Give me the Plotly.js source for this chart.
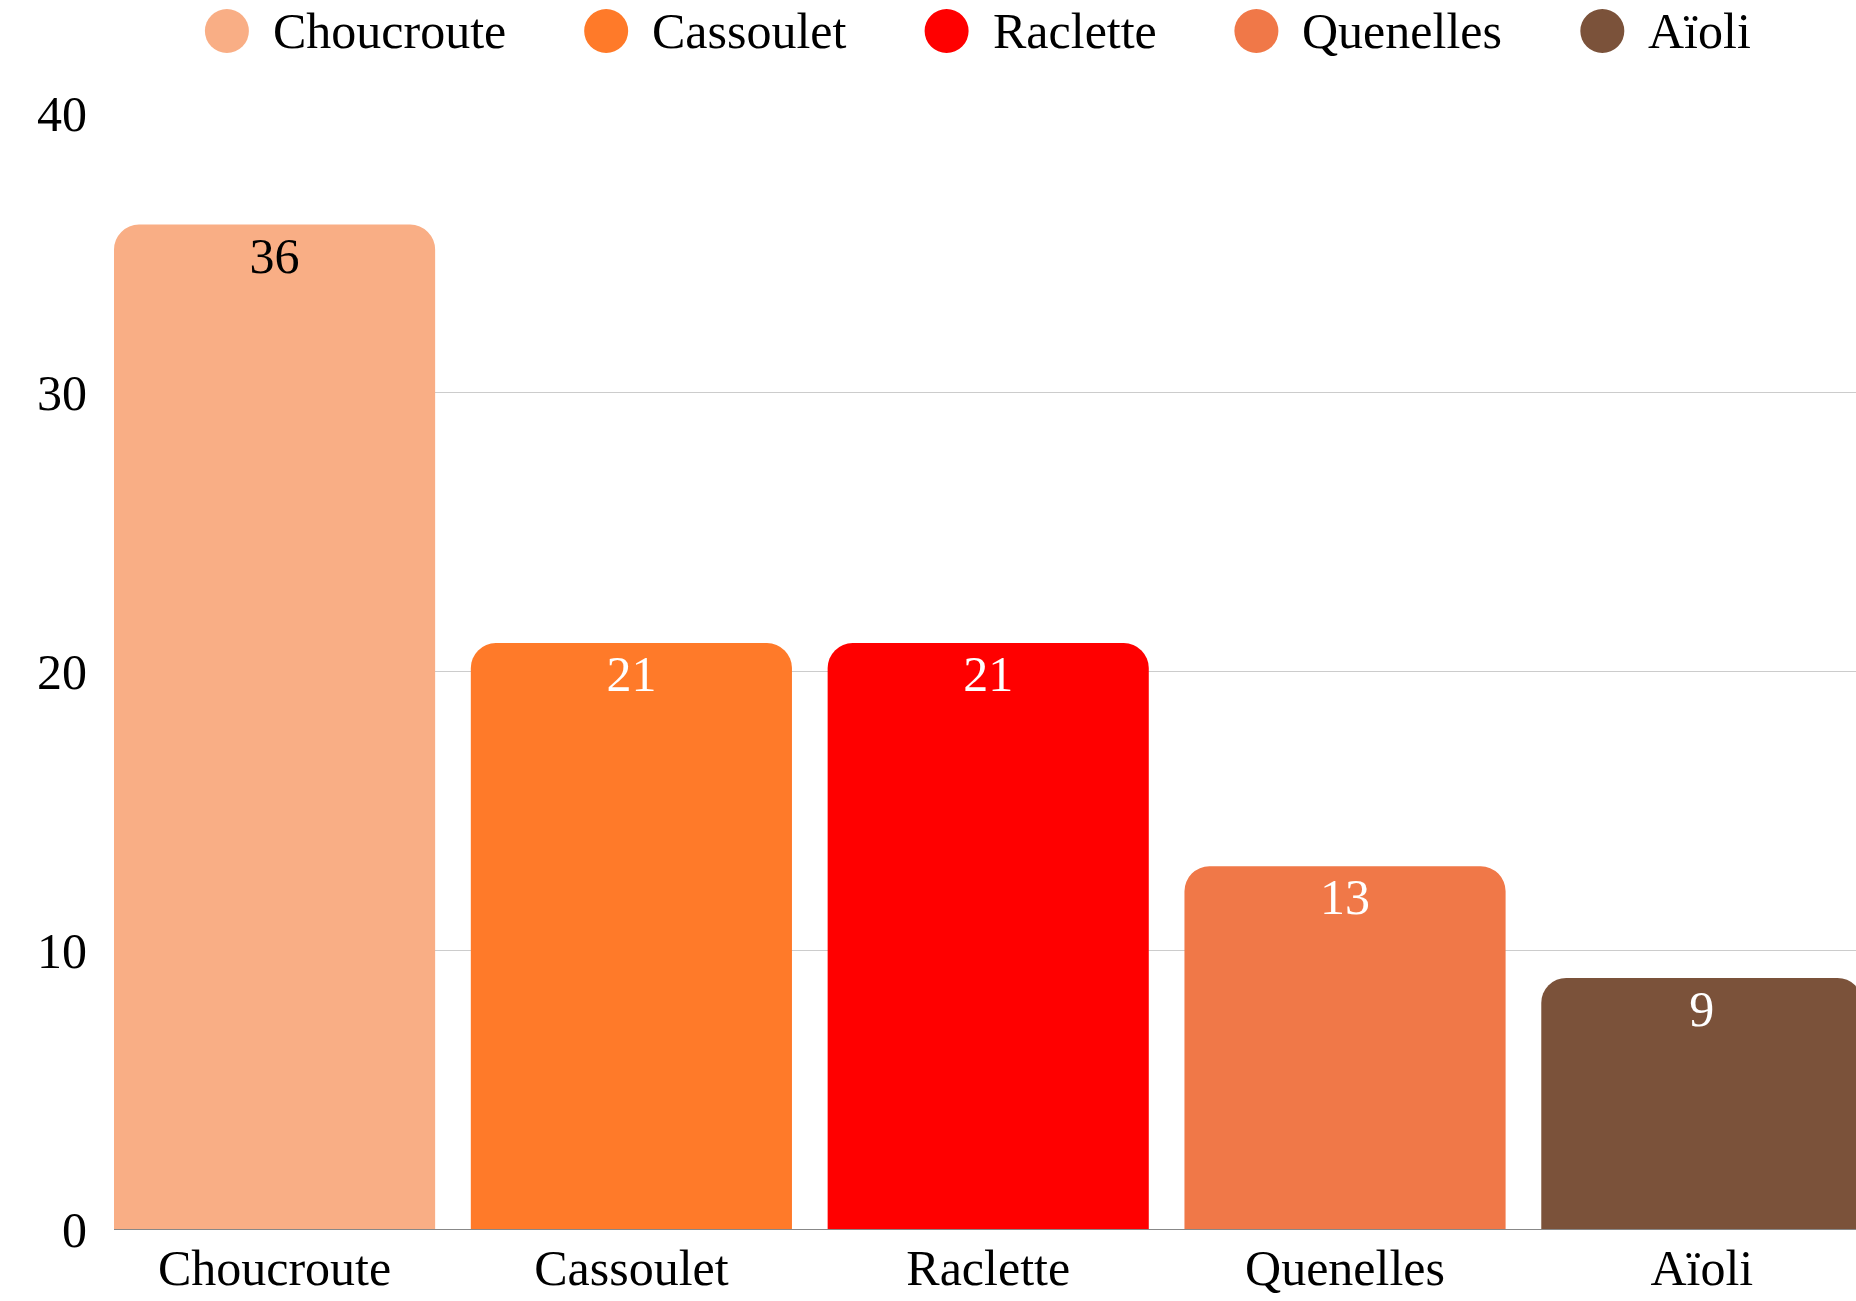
<!DOCTYPE html>
<html>
<head>
<meta charset="utf-8">
<script src="https://cdn.plot.ly/plotly-3.0.1.min.js"></script>
<style>html,body{margin:0;padding:0;background:#fff;}#chart{width:1856px;height:1301px;}</style>
</head>
<body>
<div id="chart"></div>
<script>
const categories = ['Choucroute', 'Cassoulet', 'Raclette', 'Quenelles', 'Aïoli'];
const values = [36, 21, 21, 13, 9];
const barColors = ['#F9AE85', '#FF7A29', '#FF0000', '#F07848', '#7B523A'];
const labelColors = ['#000000', '#FFFFFF', '#FFFFFF', '#FFFFFF', '#FFFFFF'];
const yTickValues = [0, 10, 20, 30, 40];

const W = 1856, H = 1301;
const M = {l: 114, r: 0, t: 113, b: 72};
const FONT = 'Liberation Serif';
const FS = 50;
const plotW = W - M.l - M.r, plotH = H - M.t - M.b;

// legend built from categories/colors
const ctx = document.createElement('canvas').getContext('2d');
ctx.font = FS + 'px "' + FONT + '"';
const R = 22, symToText = 44, itemGap = 80;
const widths = categories.map(c => ctx.measureText(c).width);
let total = 0;
widths.forEach((w, i) => { total += R + symToText + w + (i < widths.length - 1 ? itemGap : 0); });
const centerPx = M.l + plotW / 2 - 8;
let cursor = centerPx - total / 2;
const legendYpx = 31;
const py = (plotH - (legendYpx - M.t)) / plotH;
const shapes = [], annotations = [];
categories.forEach((c, i) => {
  const cx = cursor + R;
  shapes.push({type: 'circle', xref: 'paper', yref: 'paper', xsizemode: 'pixel', ysizemode: 'pixel',
    xanchor: (cx - M.l) / plotW, yanchor: py, x0: -R, x1: R, y0: -R, y1: R,
    fillcolor: barColors[i], line: {width: 0}});
  annotations.push({xref: 'paper', yref: 'paper', x: (cx + symToText - M.l) / plotW, y: py,
    xanchor: 'left', yanchor: 'middle', text: c, showarrow: false,
    font: {family: FONT, size: FS, color: '#000'}});
  cursor += R + symToText + widths[i] + itemGap;
});

const bars = {
  type: 'bar', x: categories, y: values,
  marker: {color: barColors, cornerradius: 25},
  hoverinfo: 'x+y', showlegend: false
};
const labels = {
  type: 'bar', x: categories, y: values,
  marker: {color: 'rgba(0,0,0,0)'},
  text: values.map(String), textposition: 'inside', insidetextanchor: 'end',
  textfont: {family: FONT, size: FS, color: labelColors},
  textangle: 0, hoverinfo: 'skip', showlegend: false
};

const layout = {
  width: W, height: H, margin: M,
  paper_bgcolor: '#fff', plot_bgcolor: '#fff',
  bargap: 0.1, barmode: 'overlay', showlegend: false,
  font: {family: FONT, size: FS, color: '#000'},
  xaxis: {range: [-0.45, 4.432], autorange: false, showgrid: false, showline: false,
    ticks: '', ticklabelstandoff: 5, tickfont: {family: FONT, size: FS, color: '#000'}},
  yaxis: {range: [0, 40], autorange: false, tickvals: yTickValues, ticktext: yTickValues.map(String),
    showgrid: true, gridcolor: '#CCCCCC', gridwidth: 1, zeroline: true, zerolinecolor: '#888888',
    zerolinewidth: 1, showline: false, ticks: '', ticklabelstandoff: 26,
    tickfont: {family: FONT, size: FS, color: '#000'}},
  shapes: shapes, annotations: annotations
};

Plotly.newPlot('chart', [bars, labels], layout, {staticPlot: true, displayModeBar: false});
</script>
</body>
</html>
